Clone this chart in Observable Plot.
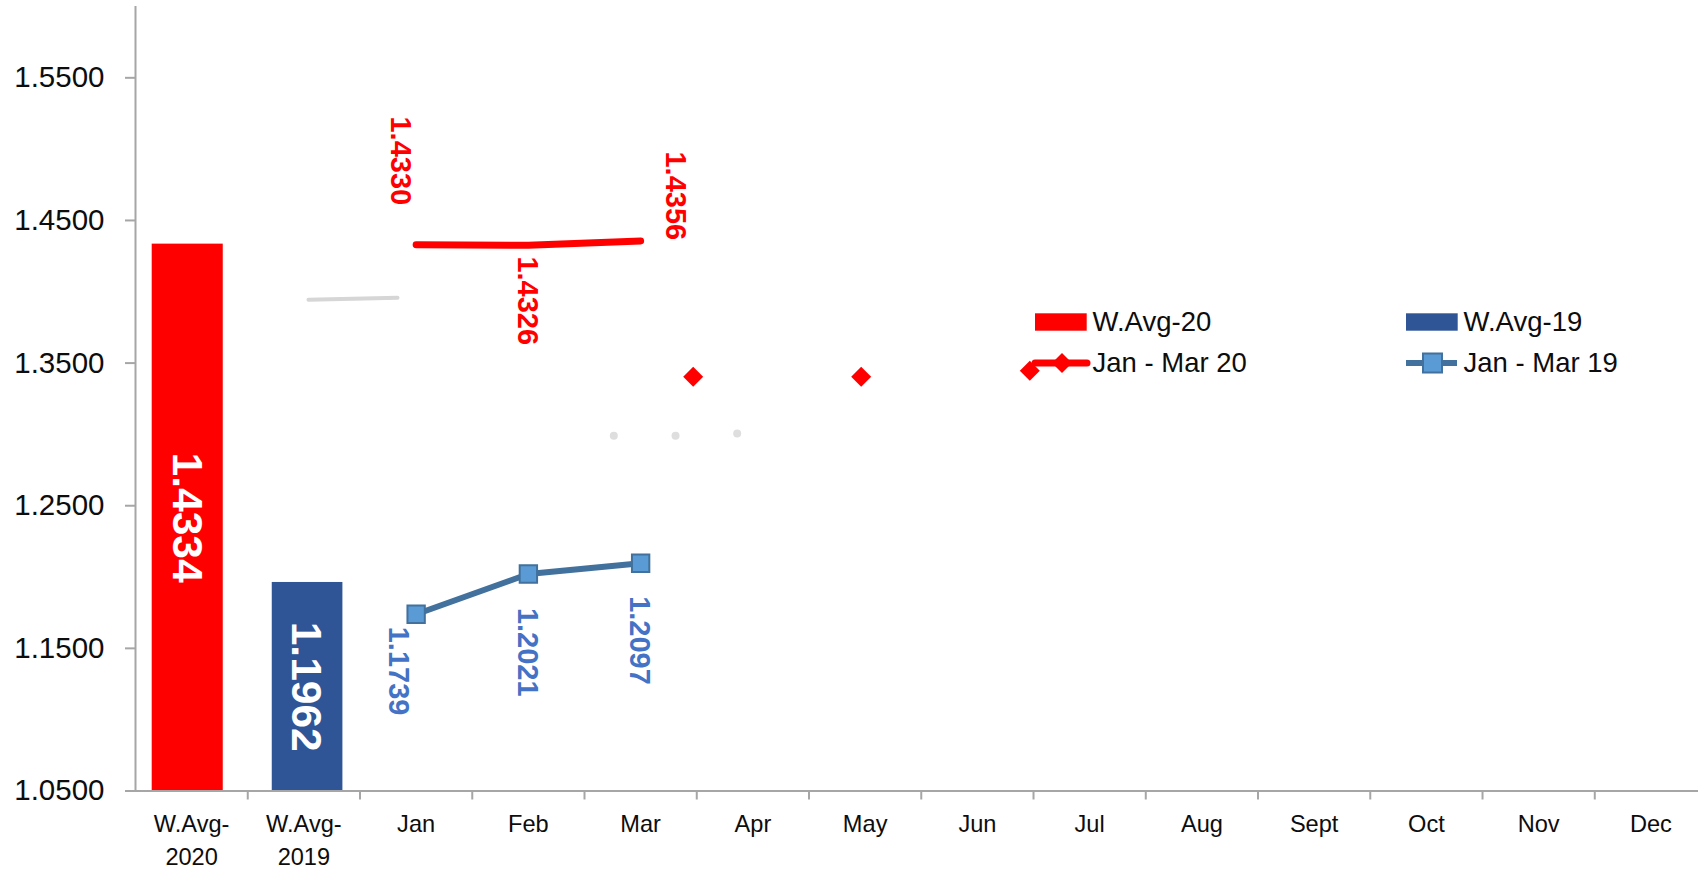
<!DOCTYPE html>
<html>
<head>
<meta charset="utf-8">
<script src="https://cdn.jsdelivr.net/npm/d3@7"></script>
<script src="https://cdn.jsdelivr.net/npm/@observablehq/plot@0.6"></script>
<style>
  html, body { margin: 0; padding: 0; background: #ffffff; }
  #wrap { position: relative; width: 1698px; height: 872px; overflow: hidden; background: #fff; }
  #legend { position: absolute; left: 0; top: 0; pointer-events: none; }
</style>
</head>
<body>
<div id="wrap"><div id="chart"></div><svg id="legend" width="1698" height="872"></svg></div>
<script>
// ---------- data ----------
const categories = ["W.Avg-\n2020", "W.Avg-\n2019", "Jan", "Feb", "Mar", "Apr", "May", "Jun", "Jul", "Aug", "Sept", "Oct", "Nov", "Dec"];
const avgNames = ["W.Avg-20", "W.Avg-19"];
const avgValues = [1.4334, 1.1962];
const lineMonths = ["Jan", "Feb", "Mar"];
const jm20Name = "Jan - Mar 20";
const jm20Values = [1.4330, 1.4326, 1.4356];
const jm19Name = "Jan - Mar 19";
const jm19Values = [1.1739, 1.2021, 1.2097];
const yTickValues = [1.05, 1.15, 1.25, 1.35, 1.45, 1.55];
const yDomain = [1.05, 1.6];
// stray markers visible in the source picture (x in category units)
const strayDiamondX = [4.968, 6.465, 7.967];
const strayDiamondY = [1.3405, 1.3405, 1.3447];
const ghostDotX = [4.261, 4.811, 5.360];
const ghostDotY = [1.2991, 1.2991, 1.3007];
const ghostLineX = [1.541, 2.334];
const ghostLineY = [1.3944, 1.3958];

// ---------- styles ----------
const RED = "#FF0000", BAR_BLUE = "#2F5597", LINE_BLUE = "#41719C", MARK_BLUE = "#5B9BD5", LABEL_BLUE = "#4472C4";
const AXIS = "#a6a6a6", TEXT = "#0d0d0d";
const SANS = "'Liberation Sans', Arial, sans-serif";

// ---------- derived tables ----------
const catIndex = name => categories.findIndex(c => c.replace("\n", "") === name);
const avgData = avgNames.map((n, k) => ({name: n, i: k, value: avgValues[k]}));
const s20 = lineMonths.map((m, k) => ({x: catIndex(m) + 0.5, y: jm20Values[k]}));
const s19 = lineMonths.map((m, k) => ({x: catIndex(m) + 0.5, y: jm19Values[k]}));
const stray = strayDiamondX.map((x, k) => ({x, y: strayDiamondY[k]}));
const ghostDots = ghostDotX.map((x, k) => ({x, y: ghostDotY[k]}));
const ghostLine = ghostLineX.map((x, k) => ({x, y: ghostLineY[k]}));
const boundaries = d3.range(0, categories.length + 1);
const centers = d3.range(0, categories.length).map(i => i + 0.5);

const redOffsets = [[-15.6, -83.9], [-1.2, 55.5], [34.9, -45.2]];
const blueOffsets = [[-18.1, 56.8], [-1.2, 78.2], [-1.1, 77.3]];
const labelMarks = (data, offs, color) => data.map((d, k) =>
  Plot.text([d], {x: "x", y: "y", text: d => d.y.toFixed(4), rotate: 90, dx: offs[k][0], dy: offs[k][1],
    fill: color, fontWeight: "bold", fontSize: 29, fontFamily: SANS}));

const chart = Plot.plot({
  width: 1698, height: 872,
  marginLeft: 135, marginRight: 0, marginTop: 6, marginBottom: 81.5,
  x: {type: "linear", domain: [0, 13.924], axis: null, label: null},
  y: {domain: yDomain, axis: null, label: null},
  style: {background: "white", fontFamily: SANS},
  marks: [
    // faint ghosts
    Plot.line(ghostLine, {x: "x", y: "y", stroke: "#d6d6d6", strokeWidth: 4, strokeLinecap: "round"}),
    Plot.dot(ghostDots, {x: "x", y: "y", r: 4, fill: "#dedede"}),
    // bars
    Plot.rectY(avgData.slice(0, 1), {x1: d => d.i, x2: d => d.i + 1, y1: yDomain[0], y2: "value", fill: RED, insetLeft: 16.7, insetRight: 24.5}),
    Plot.rectY(avgData.slice(1, 2), {x1: d => d.i, x2: d => d.i + 1, y1: yDomain[0], y2: "value", fill: BAR_BLUE, insetLeft: 24.5, insetRight: 17.1}),
    Plot.text(avgData.slice(0, 1), {x: d => d.i + 0.5, y: d => (yDomain[0] + d.value) / 2, text: d => d.value.toFixed(4), rotate: 90, dx: -5, fill: "white", fontWeight: "bold", fontSize: 42.5, fontFamily: SANS}),
    Plot.text(avgData.slice(1, 2), {x: d => d.i + 0.5, y: d => (yDomain[0] + d.value) / 2, text: d => d.value.toFixed(4), rotate: 90, dx: 1.6, fill: "white", fontWeight: "bold", fontSize: 42.5, fontFamily: SANS}),
    // axes lines
    Plot.ruleY([yDomain[0]], {stroke: AXIS, strokeWidth: 2}),
    Plot.ruleX([0], {y1: yDomain[0], y2: yDomain[1], stroke: AXIS, strokeWidth: 2}),
    Plot.axisY(yTickValues, {label: null, tickSize: 10, tickPadding: 21, tickFormat: d => d.toFixed(4), stroke: AXIS, strokeWidth: 2, fill: TEXT, fontSize: 29.5, fontFamily: SANS}),
    Plot.axisX(boundaries.slice(1), {label: null, tickSize: 9, tickFormat: () => "", stroke: AXIS, strokeWidth: 2}),
    Plot.axisX(centers, {label: null, tickSize: 0, tickPadding: 17, tickFormat: d => categories[Math.floor(d)], fill: TEXT, fontSize: 23.6, lineHeight: 1.42, fontFamily: SANS}),
    // lines
    Plot.line(s20, {x: "x", y: "y", stroke: RED, strokeWidth: 7, strokeLinecap: "round", strokeLinejoin: "round"}),
    Plot.line(s19, {x: "x", y: "y", stroke: LINE_BLUE, strokeWidth: 6, strokeLinejoin: "round"}),
    Plot.dot(s19, {x: "x", y: "y", symbol: "square", r: 9.8, fill: MARK_BLUE, stroke: LINE_BLUE, strokeWidth: 2}),
    Plot.dot(stray, {x: "x", y: "y", symbol: "diamond2", r: 9, fill: RED}),
    ...labelMarks(s20, redOffsets, RED),
    ...labelMarks(s19, blueOffsets, LABEL_BLUE)
  ]
});
document.getElementById("chart").appendChild(chart);

// ---------- legend (inside plot area, drawn as overlay) ----------
const lg = d3.select("#legend");
const legendItems = [
  {name: avgNames[0], kind: "rect", color: RED, x: 1035, y: 322},
  {name: avgNames[1], kind: "rect", color: BAR_BLUE, x: 1406, y: 322},
  {name: jm20Name, kind: "diamondline", color: RED, x: 1035, y: 363},
  {name: jm19Name, kind: "squareline", color: LINE_BLUE, x: 1406, y: 363}
];
for (const it of legendItems) {
  const g = lg.append("g").attr("transform", `translate(${it.x},${it.y})`);
  if (it.kind === "rect") {
    g.append("rect").attr("x", 0).attr("y", -8.7).attr("width", 51.7).attr("height", 17.4).attr("fill", it.color);
  } else if (it.kind === "diamondline") {
    g.append("line").attr("x1", 0).attr("x2", 52).attr("y1", 0).attr("y2", 0).attr("stroke", it.color).attr("stroke-width", 7).attr("stroke-linecap", "round");
    g.append("path").attr("d", d3.symbol(d3.symbolDiamond2, Math.PI * 81)()).attr("transform", "translate(27,0)").attr("fill", it.color);
  } else {
    g.append("line").attr("x1", 0).attr("x2", 51).attr("y1", 0).attr("y2", 0).attr("stroke", it.color).attr("stroke-width", 6);
    g.append("rect").attr("x", 17).attr("y", -9.5).attr("width", 19).attr("height", 19).attr("fill", MARK_BLUE).attr("stroke", LINE_BLUE).attr("stroke-width", 2);
  }
  g.append("text").attr("x", 57.5).attr("y", 9.2).attr("font-family", SANS).attr("font-size", 27.5).attr("fill", TEXT).text(it.name);
}
</script>
</body>
</html>
